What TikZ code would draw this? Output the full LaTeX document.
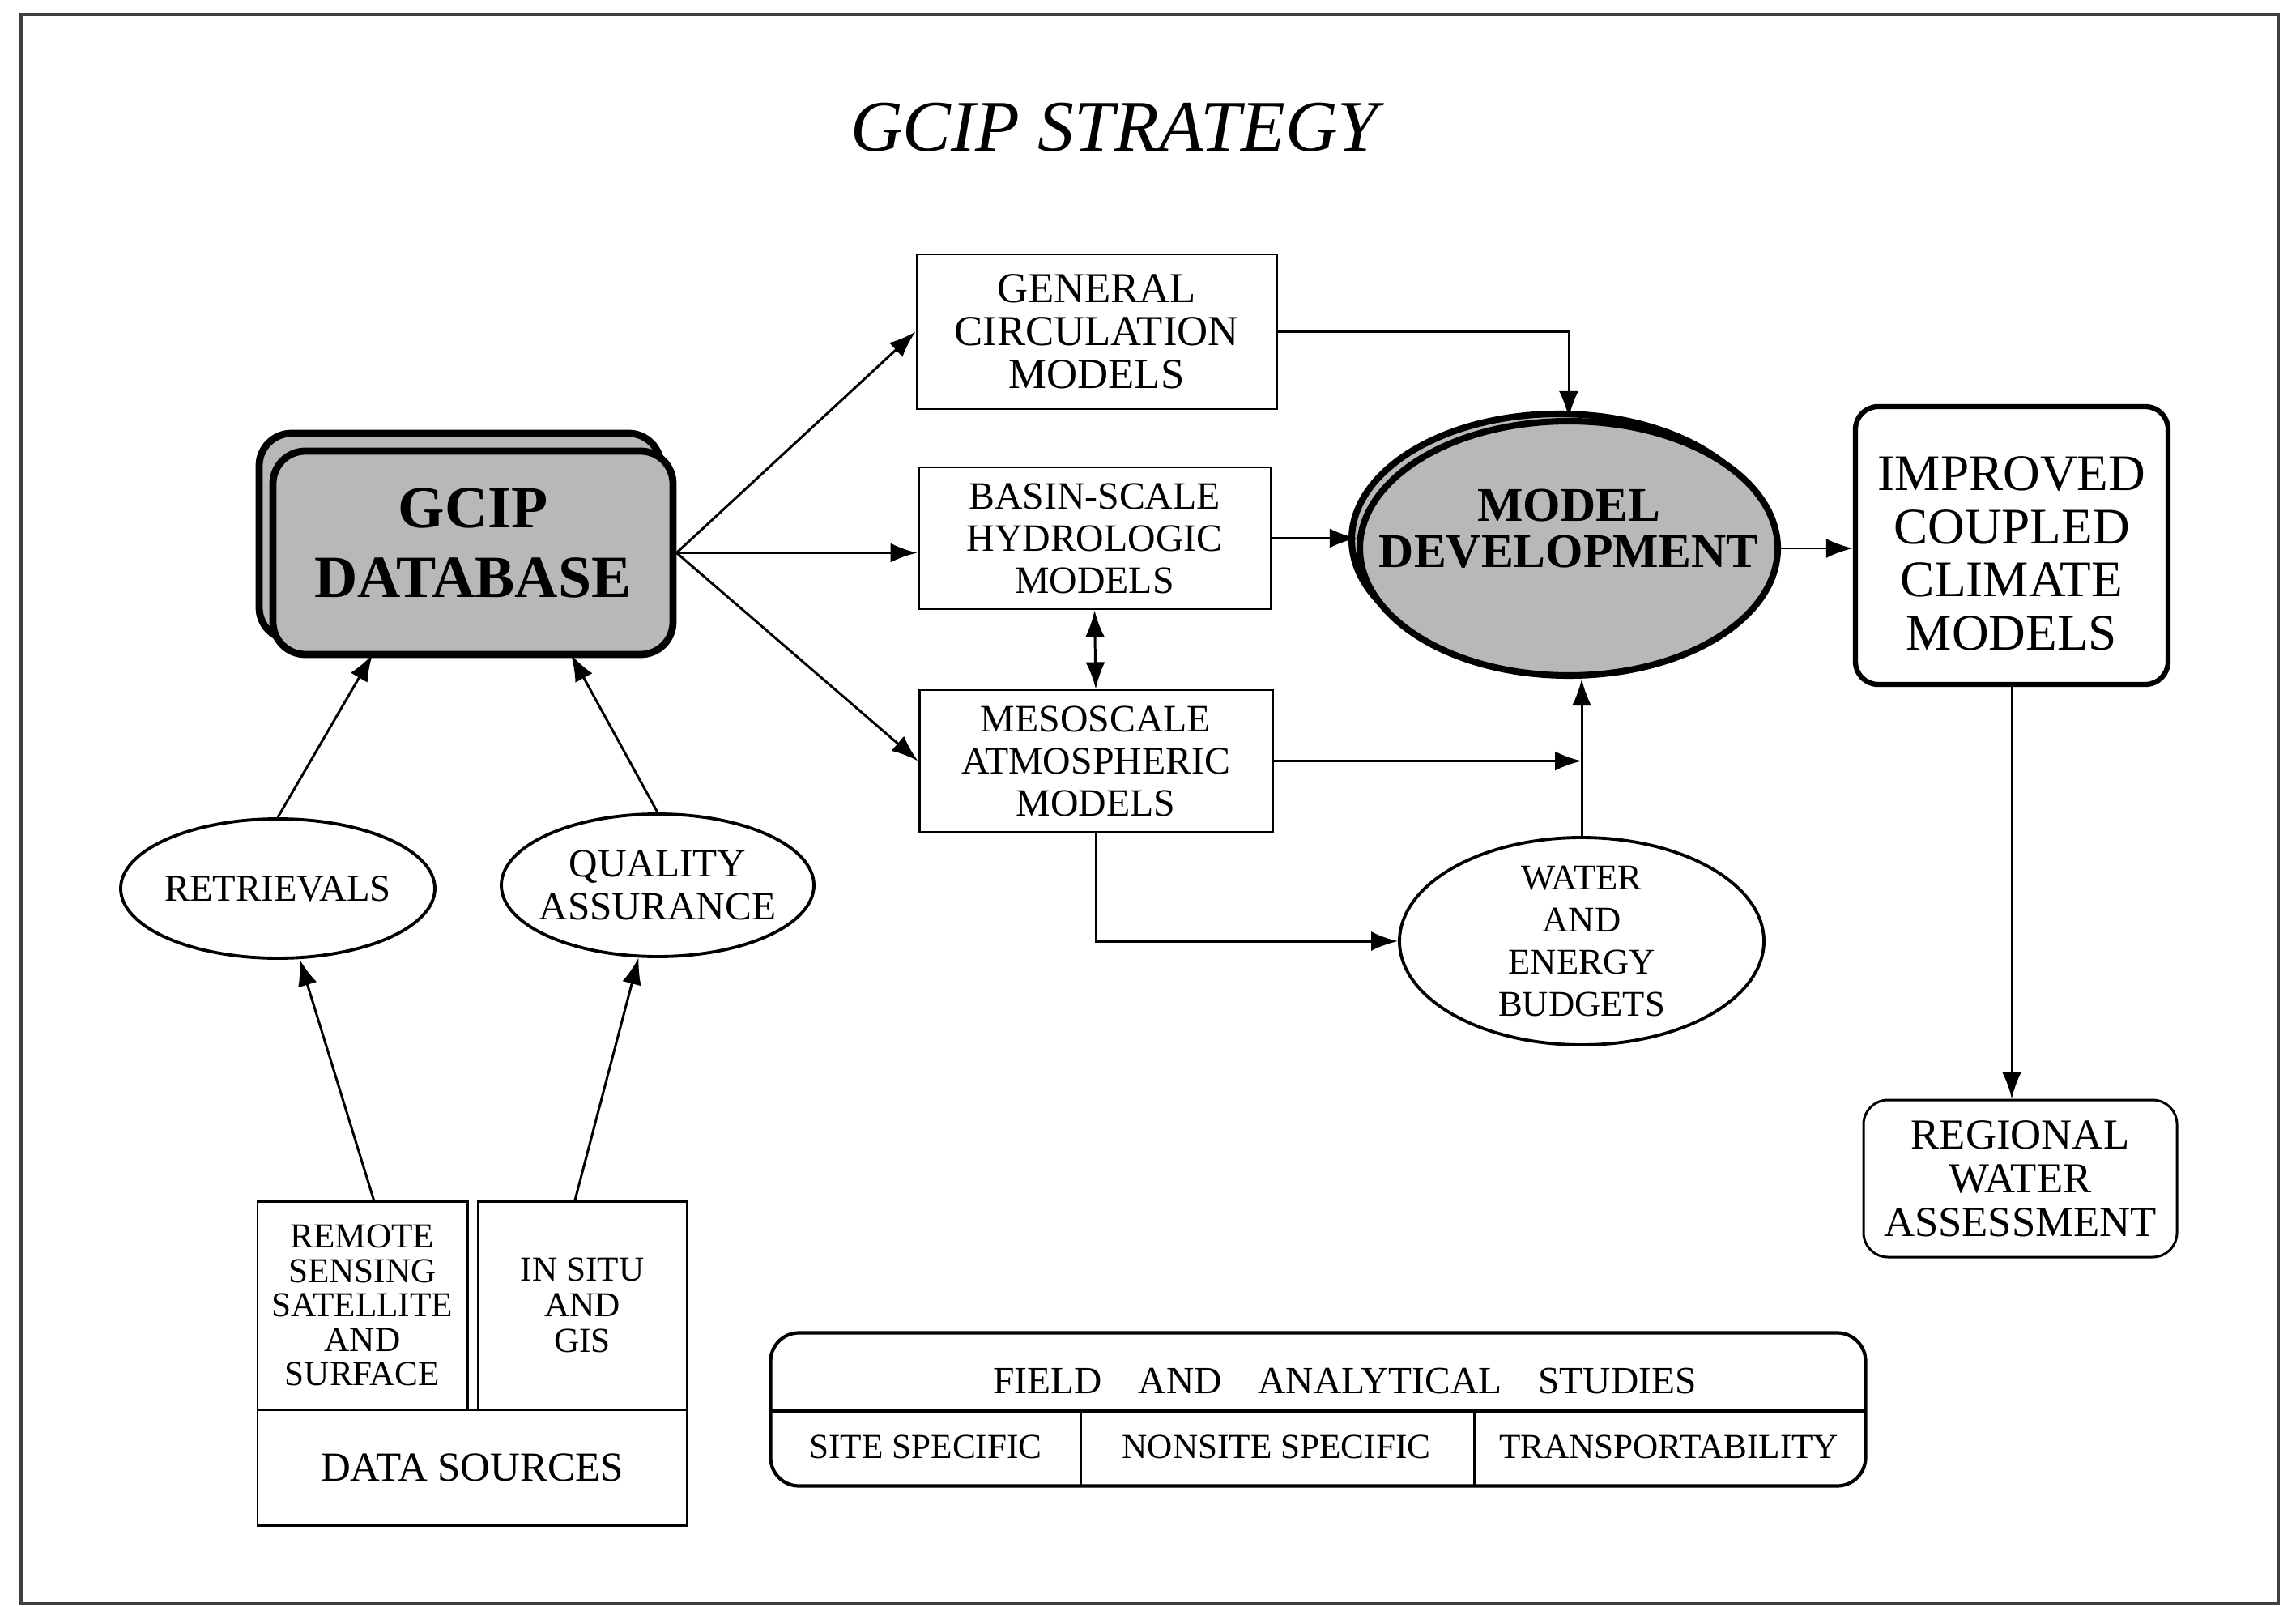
\documentclass[tikz,border=0pt]{standalone}
\usepackage{fontspec}
\setmainfont{Liberation Serif}
\usetikzlibrary{arrows.meta,shapes.geometric}
\newcommand{\fsz}[2]{\fontsize{#1}{#2}\selectfont}

\begin{document}
\begin{tikzpicture}[>={Latex[length=3.3mm,width=2.4mm]},line width=0.85pt,
    box/.style={draw,rectangle,align=center,inner sep=0pt},
    oval/.style={draw,ellipse,line width=1.1pt,align=center,inner sep=-0.25cm}]
    \useasboundingbox (0,0) rectangle (28.35,-19.84);
    \draw[line width=1.2pt,black!75] (0.26,-0.18) rectangle (28.13,-19.80);
    \node[font=\fsz{25.5}{30}\itshape] (title) at (13.76,-1.57) {GCIP STRATEGY};
    % database, drawn twice
    \draw[line width=2.5pt,rounded corners=0.4cm,fill=black!28] (3.20,-5.35) rectangle (8.16,-7.90);
    \node[box,line width=2.5pt,rounded corners=0.4cm,fill=black!28,minimum width=4.94cm,minimum height=2.51cm,
        label={[font=\fsz{21}{24.5}\bfseries,align=center,yshift=0.12cm]center:GCIP\\DATABASE}] (db) at (5.84,-6.825) {};
    % models
    \node[box,minimum width=4.44cm,minimum height=1.91cm,font=\fsz{15}{15}] (gcm) at (13.54,-4.095) {GENERAL\\CIRCULATION\\MODELS};
    \node[box,minimum width=4.35cm,minimum height=1.75cm,font=\fsz{13.6}{14.8}] (basin) at (13.515,-6.645) {BASIN-SCALE\\HYDROLOGIC\\MODELS};
    \node[box,minimum width=4.36cm,minimum height=1.75cm,font=\fsz{13.6}{14.8}] (meso) at (13.53,-9.395) {MESOSCALE\\ATMOSPHERIC\\MODELS};
    % model development, drawn twice
    \draw[line width=2.3pt,fill=black!28] (19.25,-6.66) ellipse (2.56 and 1.55);
    \node[oval,line width=2.3pt,fill=black!28,minimum width=5.16cm,minimum height=3.14cm,
        label={[font=\fsz{17}{16.2}\bfseries,align=center,yshift=0.24cm]center:MODEL\\DEVELOPMENT}] (md) at (19.37,-6.77) {};
    \node[box,line width=1.8pt,rounded corners=0.28cm,minimum width=3.86cm,minimum height=3.43cm,
        label={[font=\fsz{18}{18.7},align=center,yshift=-0.1cm]center:IMPROVED\\COUPLED\\CLIMATE\\MODELS}] (icm) at (24.84,-6.735) {};
    \node[box,rounded corners=0.3cm,minimum width=3.87cm,minimum height=1.94cm,font=\fsz{15}{15.4}] (rwa) at (24.945,-14.55) {REGIONAL\\WATER\\ASSESSMENT};
    % ovals
    \node[oval,minimum width=3.88cm,minimum height=1.72cm,font=\fsz{13.3}{15}] (retr) at (3.43,-10.97) {RETRIEVALS};
    \node[oval,minimum width=3.86cm,minimum height=1.76cm,font=\fsz{14}{15}] (qa) at (8.12,-10.93) {QUALITY\\ASSURANCE};
    \node[oval,minimum width=4.5cm,minimum height=2.56cm,font=\fsz{12.7}{14.8}] (web) at (19.53,-11.62) {WATER\\AND\\ENERGY\\BUDGETS};
    % data sources
    \node[box,minimum width=2.59cm,minimum height=2.57cm,font=\fsz{12.3}{12.1}] (remote) at (4.475,-16.115) {REMOTE\\SENSING\\SATELLITE\\AND\\SURFACE};
    \node[box,minimum width=2.58cm,minimum height=2.57cm,font=\fsz{12.3}{12.5}] (insitu) at (7.19,-16.115) {IN SITU\\AND\\GIS};
    \node[box,minimum width=5.30cm,minimum height=1.43cm,font=\fsz{14.5}{15}] (dsrc) at (5.83,-18.115) {DATA SOURCES};
    % field studies
    \node[minimum width=13.49cm,minimum height=0.93cm,
        label={[font=\fsz{13.5}{15},xshift=0.33cm,yshift=-0.12cm]center:FIELD\hspace{0.45cm}AND\hspace{0.45cm}ANALYTICAL\hspace{0.45cm}STUDIES}] (field) at (16.275,-16.935) {};
    \node[minimum width=3.80cm,minimum height=0.93cm,font=\fsz{12.3}{14}] (site) at (11.43,-17.865) {SITE SPECIFIC};
    \node[minimum width=4.86cm,minimum height=0.93cm,font=\fsz{12.3}{14}] (nonsite) at (15.76,-17.865) {NONSITE SPECIFIC};
    \node[minimum width=4.83cm,minimum height=0.93cm,font=\fsz{12.3}{14}] (transp) at (20.605,-17.865) {TRANSPORTABILITY};
    \draw[line width=1.2pt,rounded corners=0.35cm] (field.north west) rectangle (transp.south east);
    \draw[line width=1.2pt] (field.south west) -- (field.south east);
    \draw (site.north east) -- (site.south east) (nonsite.north east) -- (nonsite.south east);
    % arrows
    \coordinate (dbr) at (4.60,-8.08);
    \coordinate (dbq) at (7.05,-8.08);
    \draw[->] (db.east) -- (gcm.west);
    \draw[->] (db.east) -- (basin.west |- db.east);
    \draw[->] (db.east) -- (meso.west);
    \draw[->] (gcm.east) -| (md.north);
    \draw[->] (basin.east) -- (basin.east -| md.west);
    \draw[<->] (basin.south) -- (meso.north);
    \draw[->] (meso.east) -- (meso.east -| web.north);
    \draw[->] (web.north) -- (web.north |- md.south);
    \draw[->] (meso.south) |- (web.west);
    \draw[->] (md.east) -- (md.east -| icm.west);
    \draw[->] (icm.south) -- (icm.south |- rwa.north);
    \draw[->] (retr.north) -- (dbr);
    \draw[->] (qa.north) -- (dbq);
    \draw[->] ([xshift=1.4mm]remote.north) -- (retr);
    \draw[->] ([xshift=-0.9mm]insitu.north) -- (qa);
\end{tikzpicture}
\end{document}
